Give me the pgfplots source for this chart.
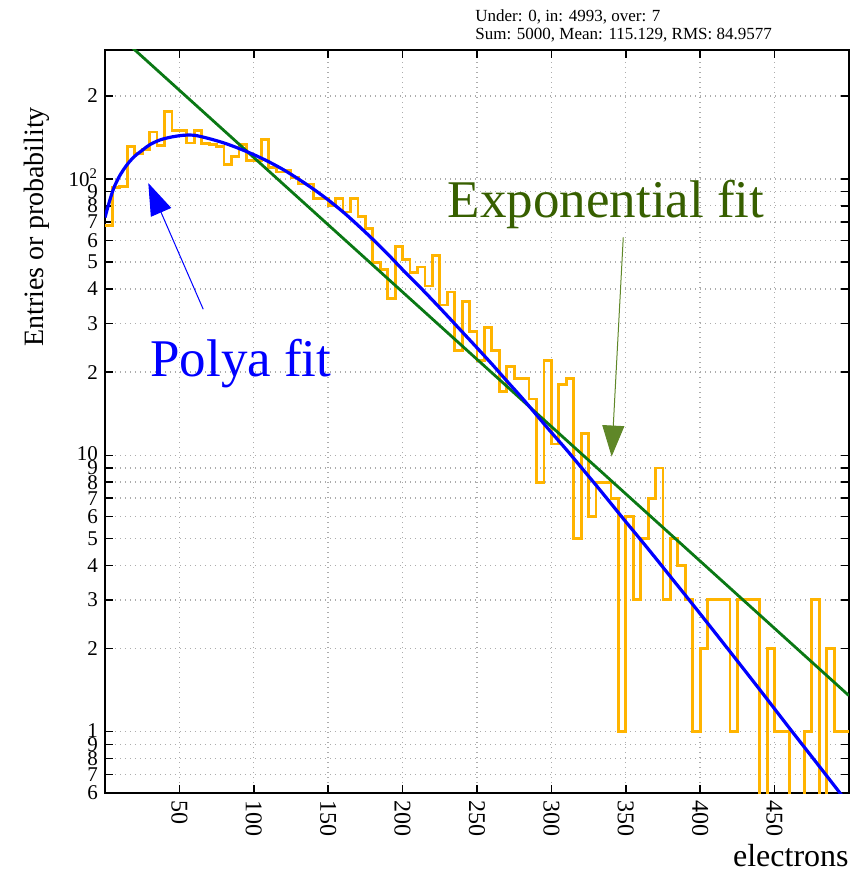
\documentclass[border=0pt]{standalone}
\usepackage{fontspec}
\setmainfont{Liberation Serif}
\usepackage{pgfplots}
\pgfplotsset{compat=1.18}
\usetikzlibrary{arrows.meta}

\definecolor{histo}{RGB}{255,180,0}
\definecolor{polya}{RGB}{0,0,255}
\definecolor{expline}{RGB}{10,120,20}
\definecolor{exptext}{RGB}{55,95,0}
\definecolor{exparrow}{RGB}{95,135,40}

\begin{document}
\begin{tikzpicture}
\begin{axis}[
  scale only axis,
  width=372pt, height=371.5pt,
  xmin=0, xmax=500,
  ymode=log, ymin=0.6, ymax=293,
  axis line style={line width=1.4pt},
  tick align=inside,
  major tick length=4pt,
  tick style={black, line width=0.8pt},
  yminorticks=false, xminorticks=false,
  xtick={50,100,...,450},
  ytick={0.6,0.7,0.8,0.9,1,2,3,4,5,6,7,8,9,10,20,30,40,50,60,70,80,90,100,200},
  yticklabels={6,7,8,9,\raisebox{1.5pt}{1}\hspace{3pt},2,3,4,5,6,7,8,9,\raisebox{1.5pt}{10}\hspace{3pt},2,3,4,5,6,7,8,9,\raisebox{1.5pt}{10\textsuperscript{2}}\hspace{3pt},2},
  /pgf/number format/assume math mode=true,
  xticklabel style={rotate=-90, anchor=west, font=\fontsize{12}{13}\selectfont},
  yticklabel style={font=\fontsize{10.5}{11}\selectfont},
  grid=major,
  major grid style={gray!65, line width=0.7pt, dash pattern=on 0.7pt off 1.8pt},
  xlabel={electrons},
  xlabel style={at={(axis description cs:1,0)}, anchor=base east, yshift=-36.5pt, inner sep=0pt, font=\fontsize{16}{18}\selectfont},
  ylabel={Entries or probability},
  ylabel style={at={(axis description cs:-0.074,0.762)}, anchor=south, inner sep=0pt, font=\fontsize{14}{16}\selectfont},
]
% histogram, bin width 5; empty bins set to 0.1 so the step falls below the axis floor
\addplot[const plot, color=histo, line width=1.4pt] coordinates {
  (0,68) (5,93) (10,94) (15,131) (20,124) (25,128) (30,148) (35,132) (40,176) (45,150)
  (50,150) (55,135) (60,150) (65,134) (70,133) (75,131) (80,113) (85,121) (90,133) (95,117)
  (100,117) (105,139) (110,110) (115,106) (120,107) (125,101) (130,96) (135,96) (140,85) (145,85)
  (150,80) (155,85) (160,76) (165,85) (170,73) (175,66) (180,50) (185,47) (190,37) (195,57)
  (200,51) (205,46) (210,48) (215,41) (220,53) (225,35) (230,39) (235,24) (240,36) (245,28)
  (250,22) (255,29) (260,24) (265,17) (270,21) (275,19) (280,19) (285,16) (290,8) (295,22)
  (300,11) (305,18) (310,19) (315,5) (320,12) (325,6) (330,8) (335,8) (340,7) (345,1)
  (350,6) (355,3) (360,5) (365,7) (370,9) (375,3) (380,5) (385,4) (390,3) (395,1)
  (400,2) (405,3) (410,3) (415,3) (420,1) (425,3) (430,3) (435,3) (440,0.1) (445,2)
  (450,1) (455,1) (460,0.1) (465,0.1) (470,1) (475,3) (480,0.1) (485,2) (490,1) (495,1)
  (500,1)
};
% exponential fit
\addplot[color=expline, line width=1.4pt] coordinates {
  (0,367) (500,1.35)
};
% Polya fit
\addplot[color=polya, line width=1.6pt, smooth] coordinates {
  (0,72.6) (3,83) (6,93) (10,103) (15,113) (20,121) (25,127) (30,133) (37,138.5) (45,142)
  (53,144) (60,144) (70,140) (80,135) (90,129) (100,122.5) (110,115.5) (120,108) (130,100)
  (140,92) (150,84) (160,76) (170,68) (180,60.5) (190,53.5) (200,47) (210,41.5) (220,36.5)
  (230,32) (240,28) (250,24.5) (260,21.4) (270,18.6) (280,16.2) (290,14.0) (300,12.1)
  (310,10.5) (320,9.05) (330,7.8) (340,6.7) (350,5.75) (360,4.95) (370,4.25) (380,3.64)
  (390,3.12) (400,2.67) (420,1.95) (440,1.42) (460,1.03) (480,0.75) (495,0.59)
};
\node[anchor=base west, text=polya, inner sep=0pt, font=\fontsize{26.5}{28}\selectfont] at (axis cs:30.2,19.3) {Polya fit};
\draw[polya, line width=0.5pt, -{Triangle[length=16pt,width=11pt]}] (axis cs:66,33.8) -- (axis cs:29.1,96.7);
\node[anchor=base west, text=exptext, inner sep=0pt, font=\fontsize{26.5}{28}\selectfont] at (axis cs:230.2,72.8) {Exponential fit};
\draw[exparrow, line width=0.5pt, -{Triangle[length=15.5pt,width=11pt]}] (axis cs:348.3,61.5) -- (axis cs:340.5,9.9);
\end{axis}
\node[anchor=base west, inner sep=0pt, font=\fontsize{8.5}{10}\selectfont] at ([shift={(185pt,14pt)}]current axis.north west) {Under: 0, in: 4993, over: 7};
\node[anchor=base west, inner sep=0pt, font=\fontsize{8.5}{10}\selectfont] at ([shift={(185pt,5pt)}]current axis.north west) {Sum: 5000, Mean: 115.129, RMS: 84.9577};
\pgfresetboundingbox
\path[use as bounding box] ([shift={(-52.5pt,-40pt)}]current axis.south west) rectangle ([shift={(6pt,25pt)}]current axis.north east);
\end{tikzpicture}
\end{document}
